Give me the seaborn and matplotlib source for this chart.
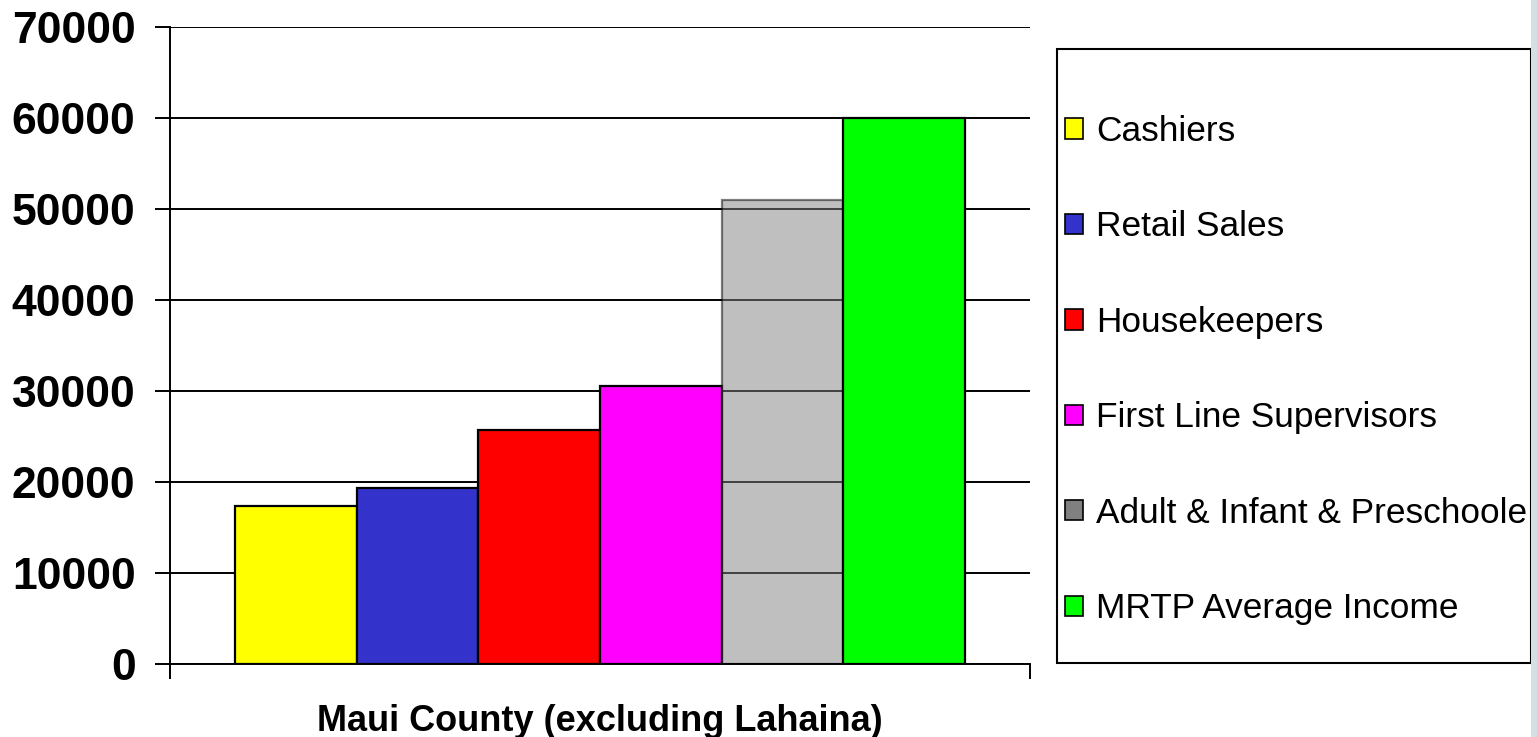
import numpy as np
import pandas as pd
import matplotlib
matplotlib.use("Agg")
import matplotlib.pyplot as plt
import matplotlib.patches as mpatches
import seaborn as sns

region = "Maui County (excluding Lahaina)"
jobs = ["Cashiers", "Retail Sales", "Housekeepers", "First Line Supervisors",
        "Adult & Infant & Preschoole", "MRTP Average Income"]
income = [17400, 19300, 25700, 30600, 51000, 60000]
colors = ["#FFFF00", "#3333CC", "#FF0000", "#FF00FF", "#808080", "#00FF00"]
yticks = [0, 10000, 20000, 30000, 40000, 50000, 60000, 70000]

df = pd.DataFrame({"region": [region] * len(jobs), "job": jobs, "income": income})

sns.set_theme(style="white")
plt.rcParams["font.family"] = ["Liberation Sans", "DejaVu Sans"]
plt.rcParams["text.color"] = "black"
plt.rcParams["xtick.color"] = "black"
plt.rcParams["ytick.color"] = "black"

fig = plt.figure(figsize=(15.37, 7.37), dpi=100)
ax = fig.add_axes([170 / 1537, 73 / 737, 860 / 1537, 637 / 737])

sns.barplot(data=df, x="region", y="income", hue="job", hue_order=jobs,
            palette=colors, saturation=1, width=0.848, gap=0, edgecolor="black",
            linewidth=1.6, legend=False, ax=ax)

# grey bar is see-through in the original
for p, c in zip(ax.patches, colors):
    if c == "#808080":
        p.set_alpha(0.5)
        p.set_edgecolor((0, 0, 0, 1))

ax.set_xlim(-0.5, 0.5)
ax.set_ylim(0, 70000)
ax.set_yticks(yticks)
ax.set_yticklabels([str(v) for v in yticks], fontsize=32, fontweight="bold")
ax.set_xticks([0])
ax.set_xticklabels([region], fontsize=26, fontweight="bold")
ax.set_xticks([-0.5, 0.5], minor=True)
ax.tick_params(axis="x", which="major", length=0, pad=29)
ax.tick_params(axis="x", which="minor", length=10.8, width=1.4, color="black",
               direction="out", bottom=True)
ax.tick_params(axis="y", length=10.8, width=1.4, color="black", direction="out",
               pad=14, left=True)
ax.set_xlabel("")
ax.set_ylabel("")

ax.set_axisbelow(True)
ax.yaxis.grid(True, color="black", linewidth=1.4)
for s in ["top", "right"]:
    ax.spines[s].set_visible(False)
for s in ["left", "bottom"]:
    ax.spines[s].set_color("black")
    ax.spines[s].set_linewidth(1.4)
ax.spines["left"].set_bounds(-1500, 70000)
ax.spines["left"].set_clip_on(False)

handles = [mpatches.Patch(facecolor=c, edgecolor="black", linewidth=1.2, label=j)
           for c, j in zip(colors, jobs)]
fig.legend(handles=handles, loc="upper left",
           bbox_to_anchor=(1065 / 1537, 1 - 115 / 737), frameon=False,
           fontsize=25.4, borderpad=0, borderaxespad=0, labelspacing=1.77,
           handlelength=0.51, handleheight=0.51, handletextpad=0.37)

fig.patches.append(mpatches.Rectangle((1057 / 1537, 74 / 737), 474 / 1537, 614 / 737,
                                      transform=fig.transFigure, fill=False,
                                      edgecolor="black", linewidth=1.5))
fig.patches.append(mpatches.Rectangle((1531 / 1537, 0), 6 / 1537, 1,
                                      transform=fig.transFigure, facecolor="#d4dfe3",
                                      edgecolor="none"))

fig.savefig("out.png", dpi=100)
